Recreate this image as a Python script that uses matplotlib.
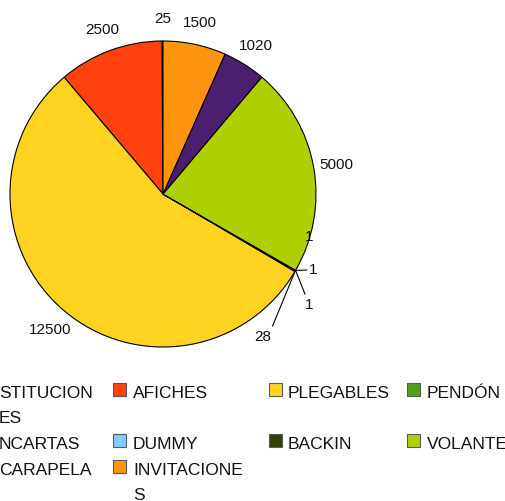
import numpy as np
import matplotlib.pyplot as plt
from matplotlib.patches import Rectangle

plt.rcParams['font.family'] = ['Liberation Sans', 'DejaVu Sans']

# Data
categories = ["CONSTITUCIONES", "AFICHES", "PLEGABLES", "PENDÓN", "PANCARTAS",
              "DUMMY", "BACKIN", "VOLANTES", "ESCARAPELA", "INVITACIONES"]
values = [25, 2500, 12500, 28, 1, 1, 1, 5000, 1020, 1500]
colors = ["#004586", "#ff420e", "#ffd320", "#579d1c", "#7e0021",
          "#83caff", "#314004", "#aecf00", "#4b1f6f", "#ff950e"]

# Legend text as it shows in the (clipped, wrapped) picture
legend_text = ["STITUCION\nES", "AFICHES", "PLEGABLES", "PENDÓN",
               "NCARTAS", "DUMMY", "BACKIN", "VOLANTES",
               "CARAPELA", "INVITACIONE\nS"]

W, H = 506, 502
fig = plt.figure(figsize=(W / 100, H / 100), dpi=100)

# pie centre (163, 195) px, radius 153 px
cx, cy, r = 163, 195, 153
ax = fig.add_axes([(cx - r) / W, 1 - (cy + r) / H, 2 * r / W, 2 * r / H])
wedges, texts = ax.pie(values, labels=[str(v) for v in values], colors=colors,
                       startangle=90, counterclock=True, labeldistance=1.15,
                       wedgeprops=dict(edgecolor="black", linewidth=0.8),
                       textprops=dict(fontsize=11, color="#111111"))
ax.set_xlim(-1, 1)
ax.set_ylim(-1, 1)
ax.set_aspect('auto')
ax.axis('off')
for t in texts:
    t.set_ha('center')
    t.set_va('center')

# tiny slices: labels moved out with leader lines (offsets in px from centre)
tiny = {3: (100, -142, (0.716, -0.863)),
        4: (146, -110, (0.928, -0.654)),
        5: (150, -75, (0.94, -0.497)),
        6: (146, -42, None)}
for i, (dx, dy, end) in tiny.items():
    texts[i].set_position((dx / r, dy / r))
    if end is not None:
        w = wedges[i]
        ang = np.deg2rad((w.theta1 + w.theta2) / 2)
        ax.plot([np.cos(ang), end[0]], [np.sin(ang), end[1]],
                color="black", lw=0.8, clip_on=False)

# Legend drawn as a 4-column grid
col_marker_x = [-21, 113, 269, 407]
col_text_x = [-1, 133, 288, 427]
row_baseline = [398, 449, 475]
line_pitch = 25
for k, (lab, c) in enumerate(zip(legend_text, colors)):
    row, col = divmod(k, 4)
    base = row_baseline[row]
    fig.patches.append(Rectangle((col_marker_x[col] / W, 1 - (base - 1) / H),
                                 13 / W, 13 / H, transform=fig.transFigure,
                                 facecolor=c, edgecolor="#5a5a5a", lw=0.8))
    for j, line in enumerate(lab.split("\n")):
        fig.text(col_text_x[col] / W, 1 - (base + j * line_pitch) / H, line,
                 fontsize=12.5, va='baseline', ha='left', color="#111111")

fig.savefig("out.png", dpi=100)
